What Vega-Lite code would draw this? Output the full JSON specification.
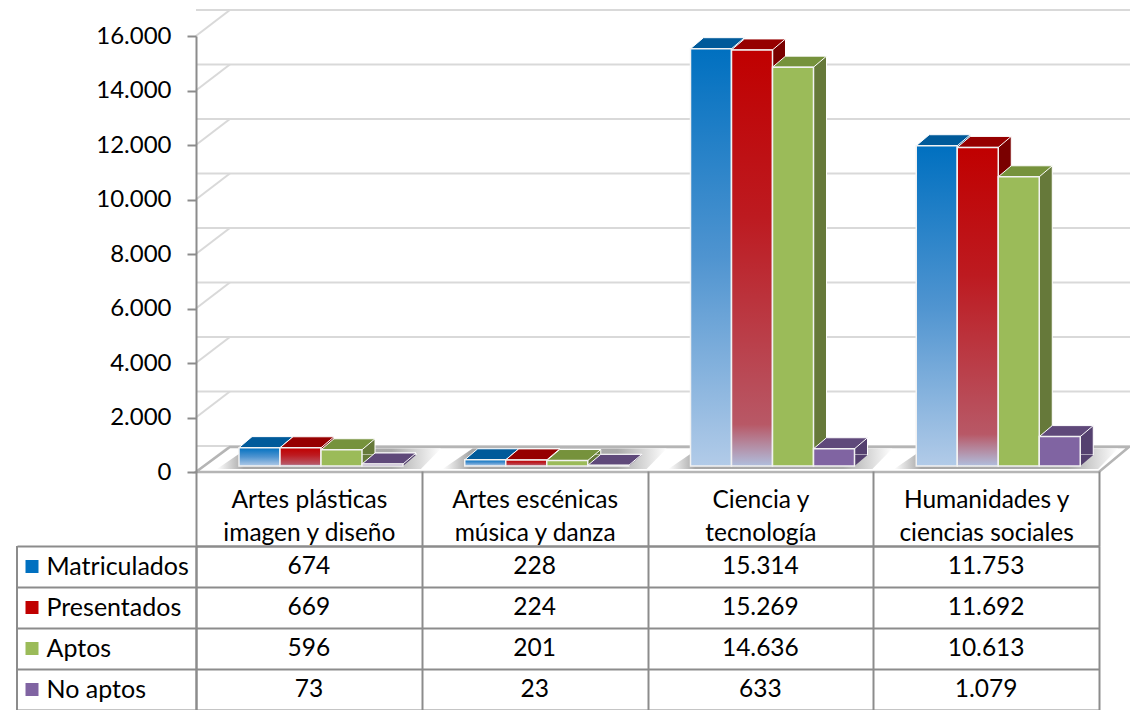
{
"$schema":"https://vega.github.io/schema/vega-lite/v6.json",
"padding":{"left":16,"top":6,"right":0,"bottom":0},
"background":"white",
"bounds":"flush",
"spacing":74,
"resolve":{"scale":{"fill":"independent","color":"independent"}},
"config":{"view":{"stroke":null},"font":"Lato","locale":{"number":{"decimal":",","thousands":".","grouping":[3],"currency":["","€"]}}},
"datasets":{
"d":[
{"categoria":"Artes plásticas|imagen y diseño","serie":"Matriculados","valor":674},
{"categoria":"Artes plásticas|imagen y diseño","serie":"Presentados","valor":669},
{"categoria":"Artes plásticas|imagen y diseño","serie":"Aptos","valor":596},
{"categoria":"Artes plásticas|imagen y diseño","serie":"No aptos","valor":73},
{"categoria":"Artes escénicas|música y danza","serie":"Matriculados","valor":228},
{"categoria":"Artes escénicas|música y danza","serie":"Presentados","valor":224},
{"categoria":"Artes escénicas|música y danza","serie":"Aptos","valor":201},
{"categoria":"Artes escénicas|música y danza","serie":"No aptos","valor":23},
{"categoria":"Ciencia y|tecnología","serie":"Matriculados","valor":15314},
{"categoria":"Ciencia y|tecnología","serie":"Presentados","valor":15269},
{"categoria":"Ciencia y|tecnología","serie":"Aptos","valor":14636},
{"categoria":"Ciencia y|tecnología","serie":"No aptos","valor":633},
{"categoria":"Humanidades y|ciencias sociales","serie":"Matriculados","valor":11753},
{"categoria":"Humanidades y|ciencias sociales","serie":"Presentados","valor":11692},
{"categoria":"Humanidades y|ciencias sociales","serie":"Aptos","valor":10613},
{"categoria":"Humanidades y|ciencias sociales","serie":"No aptos","valor":1079}
],
"t":[{"v":0},{"v":2000},{"v":4000},{"v":6000},{"v":8000},{"v":10000},{"v":12000},{"v":14000},{"v":16000}]
},
"vconcat":[
{"width":903,"height":436,
"resolve":{"scale":{"x":"independent","y":"independent","xOffset":"independent","fill":"independent"},"axis":{"y":"independent","x":"independent"}},
"layer":[
{"encoding":{
  "x":{"field":"categoria","type":"nominal","sort":null,"axis":null,"scale":{"domain":["Artes plásticas|imagen y diseño","Artes escénicas|música y danza","Ciencia y|tecnología","Humanidades y|ciencias sociales"],"paddingInner":0,"paddingOuter":0}},
  "y":{"field":"v","type":"quantitative","scale":{"domain":[0,16000],"nice":false},"axis":{"title":null,"values":[0,2000,4000,6000,8000,10000,12000,14000,16000],"format":",d","grid":false,"tickSize":9,"tickColor":"#8c8c8c","tickWidth":2,"domainColor":"#8c8c8c","domainWidth":2,"labelFontSize":24,"labelColor":"#000000","labelPadding":16,"labelFont":"Lato","zindex":1}}
 },
 "layer":[
 {"data":{"name":"t"},
  "mark":{"type":"rule","color":"#d9d9d9","strokeWidth":2,"xOffset":34,"x2Offset":30,"yOffset":-26,"y2Offset":-26},
  "encoding":{"x":null}},
 {"data":{"name":"t"},
  "mark":{"type":"point","filled":false,"shape":"M-113,0L-79,-26","size":4,"stroke":"#d9d9d9","strokeWidth":2,"opacity":1},
  "encoding":{"x":{"datum":"Artes plásticas|imagen y diseño"}}},
 {"data":{"values":[{"v":0}]},
  "mark":{"type":"point","filled":true,"shape":"M-113,0L790,0L820,-25L-79,-25Z","size":4,"fill":"#ffffff","stroke":"#b5b5b5","strokeWidth":2.5,"opacity":1},
  "encoding":{"x":{"datum":"Artes plásticas|imagen y diseño"}}},
 {"data":{"values":[{"categoria":"Artes plásticas|imagen y diseño","v":0},{"categoria":"Artes escénicas|música y danza","v":0},{"categoria":"Ciencia y|tecnología","v":0},{"categoria":"Humanidades y|ciencias sociales","v":0}]},
  "mark":{"type":"point","filled":true,"size":4,"opacity":1,"shape":"M-92,-3L112,-3L132,-23.5L-62,-23.5Z","strokeWidth":0,
   "fill":{"gradient":"linear","x1":0,"y1":0,"x2":1,"y2":0,"stops":[{"offset":0,"color":"#ffffff"},{"offset":0.12,"color":"#a6a6a6"},{"offset":0.78,"color":"#ababab"},{"offset":1,"color":"#ffffff"}]}}}
 ]},
{"data":{"name":"d"},
 "mark":{"type":"bar","stroke":"#ffffff","strokeWidth":1},
 "encoding":{
  "x":{"field":"categoria","type":"nominal","sort":null,"axis":null,"scale":{"domain":["Artes plásticas|imagen y diseño","Artes escénicas|música y danza","Ciencia y|tecnología","Humanidades y|ciencias sociales"],"paddingInner":0,"paddingOuter":0}},
  "xOffset":{"field":"serie","type":"nominal","sort":null,"scale":{"domain":["Matriculados","Presentados","Aptos","No aptos"],"range":[56,220],"paddingInner":0,"paddingOuter":0}},
  "y":{"field":"valor","type":"quantitative","stack":null,"axis":null,"scale":{"domain":[0,16000],"nice":false,"range":[419,-17]}},
  "fill":{"field":"serie","type":"nominal","legend":null,"sort":null,"scale":{"domain":["Matriculados","Presentados","Aptos","No aptos"],"range":["#004f87","#7a0000","#66793a","#54406f"]}}
 }},
{"data":{"name":"d"},
 "mark":{"type":"point","filled":true,"size":4,"opacity":1,"shape":"M0,11L28,11L41,0L0,0Z","strokeWidth":0},
 "encoding":{
  "x":{"field":"categoria","type":"nominal","sort":null,"axis":null,"scale":{"domain":["Artes plásticas|imagen y diseño","Artes escénicas|música y danza","Ciencia y|tecnología","Humanidades y|ciencias sociales"],"paddingInner":0,"paddingOuter":0}},
  "xOffset":{"field":"serie","type":"nominal","sort":null,"scale":{"domain":["Matriculados","Presentados","Aptos","No aptos"],"range":[56,179],"padding":0}},
  "y":{"datum":0,"type":"quantitative","axis":null,"scale":{"domain":[0,16000],"nice":false,"range":[419,-17]}},
  "fill":{"field":"serie","type":"nominal","legend":null,"sort":null,"scale":{"domain":["Matriculados","Presentados","Aptos","No aptos"],"range":["#004f87","#7a0000","#66793a","#54406f"]}}
 }},
{"data":{"name":"d"},
 "mark":{"type":"point","filled":true,"size":4,"opacity":1,"shape":"M0,-6L41,-6L54,-17L13,-17Z","strokeWidth":1,"stroke":"#ffffff"},
 "encoding":{
  "x":{"field":"categoria","type":"nominal","sort":null,"axis":null,"scale":{"domain":["Artes plásticas|imagen y diseño","Artes escénicas|música y danza","Ciencia y|tecnología","Humanidades y|ciencias sociales"],"paddingInner":0,"paddingOuter":0}},
  "xOffset":{"field":"serie","type":"nominal","sort":null,"scale":{"domain":["Matriculados","Presentados","Aptos","No aptos"],"range":[43,166],"padding":0}},
  "y":{"field":"valor","type":"quantitative","stack":null,"axis":null,"scale":{"domain":[0,16000],"nice":false}},
  "fill":{"field":"serie","type":"nominal","legend":null,"sort":null,"scale":{"domain":["Matriculados","Presentados","Aptos","No aptos"],"range":["#005a9a","#960000","#76923c","#5f497a"]}}
 }},
{"data":{"name":"d"},
 "encoding":{
  "x":{"field":"categoria","type":"nominal","sort":null,"axis":null,"scale":{"domain":["Artes plásticas|imagen y diseño","Artes escénicas|música y danza","Ciencia y|tecnología","Humanidades y|ciencias sociales"],"paddingInner":0,"paddingOuter":0}},
  "xOffset":{"field":"serie","type":"nominal","sort":null,"scale":{"domain":["Matriculados","Presentados","Aptos","No aptos"],"range":[43,207],"paddingInner":0,"paddingOuter":0}},
  "y":{"field":"valor","type":"quantitative","stack":null,"axis":null,"scale":{"domain":[0,16000],"nice":false,"range":[430,-6]}}
 },
 "layer":[
 {"transform":[{"filter":"datum.serie==='Matriculados'"}],
  "mark":{"type":"bar","stroke":"#f2f2f2","strokeWidth":1.5,
   "fill":{"gradient":"linear","x1":0,"y1":0,"x2":0,"y2":1,"stops":[{"offset":0,"color":"#0070c0"},{"offset":0.5,"color":"#4f94d0"},{"offset":1,"color":"#b2cbe8"}]}}},
 {"transform":[{"filter":"datum.serie==='Presentados'"}],
  "mark":{"type":"bar","stroke":"#f2f2f2","strokeWidth":1.5,
   "fill":{"gradient":"linear","x1":0,"y1":0,"x2":0,"y2":1,"stops":[{"offset":0,"color":"#c00000"},{"offset":0.4,"color":"#bd1a20"},{"offset":0.9,"color":"#b85866"},{"offset":1,"color":"#b0bedd"}]}}},
 {"transform":[{"filter":"datum.serie==='Aptos'"}],
  "mark":{"type":"bar","stroke":"#f2f2f2","strokeWidth":1.5,"fill":"#9bbb59"}},
 {"transform":[{"filter":"datum.serie==='No aptos'"}],
  "mark":{"type":"bar","stroke":"#f2f2f2","strokeWidth":1.5,"fill":"#8064a2"}}
 ]}
]},
{"width":903,"height":164,
"data":{"name":"d"},
"encoding":{
 "x":{"field":"categoria","type":"nominal","sort":null,"scale":{"domain":["Artes plásticas|imagen y diseño","Artes escénicas|música y danza","Ciencia y|tecnología","Humanidades y|ciencias sociales"],"paddingInner":0,"paddingOuter":0},
  "axis":{"orient":"top","title":null,"labelAngle":0,"tickBand":"extent","tickSize":75,"tickColor":"#8c8c8c","tickWidth":2,"grid":true,"gridColor":"#8c8c8c","gridWidth":2,"domainColor":"#8c8c8c","domainWidth":2,"labelFontSize":24.5,"labelColor":"#000000","labelFont":"Lato","labelPadding":-41,"labelBaseline":"bottom","labelLineHeight":33,"labelLimit":0,"labelExpr":"split(datum.label,'|')"}},
 "y":{"field":"serie","type":"nominal","sort":null,"scale":{"domain":["Matriculados","Presentados","Aptos","No aptos"],"paddingInner":0,"paddingOuter":0},
  "axis":{"title":null,"tickBand":"extent","tickSize":179,"tickColor":"#8c8c8c","tickWidth":2,"grid":true,"gridColor":"#8c8c8c","gridWidth":2,"domainColor":"#8c8c8c","domainWidth":2,"labelFontSize":25,"labelColor":"#000000","labelFont":"Lato","labelAlign":"left","labelPadding":-29,"labelLimit":0}}
},
"layer":[
{"mark":{"type":"text","fontSize":24.5,"font":"Lato","color":"#000000"},"encoding":{"text":{"field":"valor","type":"quantitative","format":",d"}}},
{"data":{"values":[{"v":1}]},"mark":{"type":"rule","color":"#8c8c8c","strokeWidth":2,"xOffset":-179},"encoding":{"x":{"datum":"Artes plásticas|imagen y diseño","bandPosition":0},"y":null}},
{"transform":[{"filter":"datum.categoria==='Ciencia y|tecnología'"}],
 "mark":{"type":"point","filled":true,"opacity":1,"shape":"square","size":169,"xOffset":-164},
 "encoding":{"x":{"datum":"Artes plásticas|imagen y diseño","bandPosition":0},
  "fill":{"field":"serie","type":"nominal","legend":null,"scale":{"domain":["Matriculados","Presentados","Aptos","No aptos"],"range":["#0070c0","#c00000","#9bbb59","#8064a2"]}}}}
]}
]}
